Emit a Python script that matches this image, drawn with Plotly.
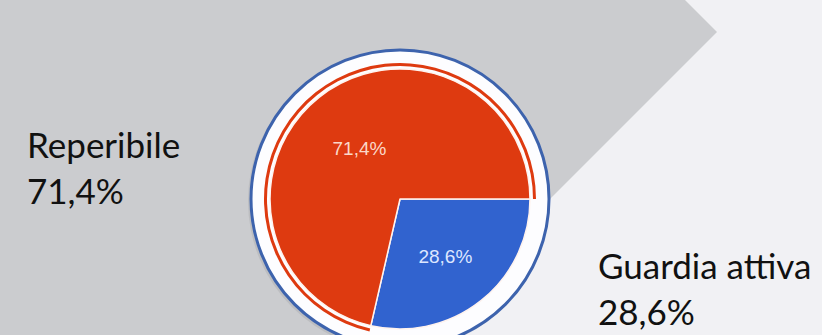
import plotly.graph_objects as go

# ---- data ----
categories = ["Guardia attiva", "Reperibile"]
shares = [28.6, 71.4]
slice_colors = ["#3163cf", "#de3a10"]
inside_text_colors = ["#dde7ff", "#fbd8c8"]

W, H = 822, 335
cx, cy = 400, 199          # pie centre in px (from top-left)
r_pie = 130
r_ring_in, r_ring = 133, 136
r_disk = 149

def px_dom(r):
    x = [(cx - r) / W, (cx + r) / W]
    yb = H - cy
    y = [max(0.0, (yb - r) / H), min(1.0, (yb + r) / H)]
    return dict(x=x, y=y)

def fmt(v):
    return f"{v:.1f}".replace(".", ",") + "%"

fig = go.Figure()

# thin outer ring that follows the red slice only
fig.add_trace(go.Pie(
    labels=categories, values=shares, sort=False, direction="clockwise", rotation=90,
    hole=r_ring_in / r_ring, domain=px_dom(r_ring),
    marker=dict(colors=["rgba(0,0,0,0)", slice_colors[1]], line=dict(width=0)),
    textinfo="none", hoverinfo="skip", showlegend=False,
))

# main pie
fig.add_trace(go.Pie(
    labels=categories, values=shares, sort=False, direction="clockwise", rotation=90,
    domain=px_dom(r_pie),
    marker=dict(colors=slice_colors, line=dict(color="#fff3ee", width=1.5)),
    texttemplate="%{percent:.1%}", textposition="inside",
    insidetextorientation="horizontal",
    insidetextfont=dict(family="Liberation Sans, Arial", size=19, color=inside_text_colors),
    showlegend=False,
))

shapes = [
    # light background area on the right (chevron cut)
    dict(type="path", xref="paper", yref="paper",
         path=f"M {685/W},1 L 1,1 L 1,0 L {414/W},0 L {717/W},{1-32/H} Z",
         fillcolor="#f1f1f4", line=dict(width=0), layer="below"),
    # soft shadow
    dict(type="circle", xref="paper", yref="paper",
         x0=(cx - r_disk - 3) / W, x1=(cx + r_disk - 1) / W,
         y0=(H - cy - r_disk - 3) / H, y1=(H - cy + r_disk - 1) / H,
         fillcolor="rgba(60,60,70,0.10)", line=dict(width=0), layer="below"),
    # white disc with blue outline
    dict(type="circle", xref="paper", yref="paper",
         x0=(cx - r_disk) / W, x1=(cx + r_disk) / W,
         y0=(H - cy - r_disk) / H, y1=(H - cy + r_disk) / H,
         fillcolor="#fdfdff", line=dict(color="#3d63ad", width=3), layer="below"),
]

annotations = [
    dict(text=f"{categories[1]}<br>{fmt(shares[1])}", x=25 / W, y=1 - 167 / H,
         xref="paper", yref="paper", xanchor="left", yanchor="middle", align="left",
         showarrow=False, font=dict(family="Lato", size=35, color="#111111")),
    dict(text=f"{categories[0]}<br>{fmt(shares[0])}", x=596 / W, y=1 - 288 / H,
         xref="paper", yref="paper", xanchor="left", yanchor="middle", align="left",
         showarrow=False, font=dict(family="Lato", size=35, color="#111111")),
]

fig.update_layout(
    width=W, height=H, margin=dict(l=0, r=0, t=0, b=0),
    paper_bgcolor="#cbcccf", plot_bgcolor="#cbcccf",
    separators=",.",
    shapes=shapes, annotations=annotations,
)

fig.write_html("out.html")
